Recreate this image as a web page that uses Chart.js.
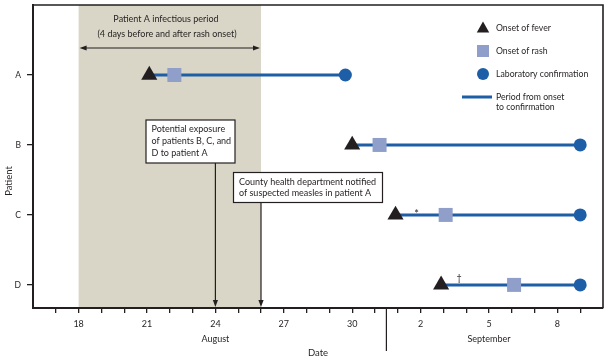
<!DOCTYPE html>
<html><head><meta charset="utf-8">
<script src="https://cdn.jsdelivr.net/npm/chart.js@4.4.1/dist/chart.umd.min.js"></script>
<style>html,body{margin:0;padding:0;background:#fff}</style>
</head><body>
<canvas id="c" width="609" height="360"></canvas>
<script>
// ---- data (days counted from August 1; September 1 = day 32) ----
const patients = ['A', 'B', 'C', 'D'];
const feverOnset = [21.1, 30, 31.9, 33.9];
const rashOnset = [22.2, 31.2, 34.1, 37.1];
const labConfirmation = [29.7, 40, 40, 40];
const footnoteMarks = ['', '', '*', '\u2020'];
const tickDays = [17,18,19,20,21,22,23,24,25,26,27,28,29,30,31,32,33,34,35,36,37,38,39,40];
const labelDays = [18, 21, 24, 27, 30, 33, 36, 39];
const dayLabels = ['18', '21', '24', '27', '30', '2', '5', '8'];
const monthLabelDays = [24, 36];
const monthNames = ['August', 'September'];
const monthBoundary = 31.5;
const infectiousPeriod = [18, 26];
const exposureDay = 24;
const notifiedDay = 26;
const infectiousText = ['Patient A infectious period', '(4 days before and after rash onset)'];
const exposureText = ['Potential exposure', 'of patients B, C, and', 'D to patient A'];
const notifiedText = ['County health department notified', 'of suspected measles in patient A'];
const legendLabels = ['Onset of fever', 'Onset of rash', 'Laboratory confirmation', ['Period from onset', 'to confirmation']];

const INK = '#231f20';
const BLUE = '#1d5ea6';
const RASH = '#8f9fca';
const SHADE = '#d9d6c7';
const FAM = 'Lato, "Open Sans", sans-serif';

function tri(ctx, x, y, w, h) { ctx.beginPath(); ctx.moveTo(x, y - h / 2); ctx.lineTo(x + w / 2, y + h / 2); ctx.lineTo(x - w / 2, y + h / 2); ctx.closePath(); ctx.fill(); }
function headDown(ctx, x, y) { ctx.beginPath(); ctx.moveTo(x, y); ctx.lineTo(x - 2.6, y - 7); ctx.lineTo(x + 2.6, y - 7); ctx.closePath(); ctx.fill(); }
function headH(ctx, x, y, dir) { ctx.beginPath(); ctx.moveTo(x, y); ctx.lineTo(x - dir * 7, y - 2.4); ctx.lineTo(x - dir * 7, y + 2.4); ctx.closePath(); ctx.fill(); }

const decor = {
  id: 'decor',
  beforeDraw(chart) {
    const { ctx, chartArea: a, scales: { x } } = chart;
    const x0 = x.getPixelForValue(infectiousPeriod[0]);
    const x1 = x.getPixelForValue(infectiousPeriod[1]);
    ctx.save();
    ctx.fillStyle = SHADE;
    ctx.fillRect(x0, a.top, x1 - x0, a.bottom - a.top);
    ctx.fillStyle = INK;
    ctx.font = '9px ' + FAM;
    ctx.textAlign = 'center'; ctx.textBaseline = 'middle';
    ctx.fillText(infectiousText[0], 166, 19);
    ctx.fillText(infectiousText[1], 167, 34.5);
    ctx.strokeStyle = INK; ctx.lineWidth = 1.2;
    const ay = 48;
    ctx.beginPath(); ctx.moveTo(x0 + 4, ay); ctx.lineTo(x1 - 4, ay); ctx.stroke();
    headH(ctx, x0 + 1, ay, -1); headH(ctx, x1 - 1, ay, 1);
    ctx.restore();
  },
  afterDatasetsDraw(chart) {
    const { ctx, chartArea: a, scales: { x, y } } = chart;
    ctx.save();
    ctx.fillStyle = INK; ctx.strokeStyle = INK;
    // footnote marks
    ctx.textAlign = 'center'; ctx.textBaseline = 'alphabetic';
    footnoteMarks.forEach((m, i) => {
      if (!m) return;
      ctx.font = (m === '*' ? '11px ' : '9px ') + FAM;
      const px = x.getPixelForValue(feverOnset[i]) + (m === '*' ? 21 : 18);
      ctx.fillText(m, px, y.getPixelForValue(i + 1) + (m === '*' ? 3 : -4));
    });
    // exposure annotation
    const ex = x.getPixelForValue(exposureDay);
    ctx.lineWidth = 1.2;
    ctx.beginPath(); ctx.moveTo(ex, 163); ctx.lineTo(ex, a.bottom - 5); ctx.stroke();
    headDown(ctx, ex, a.bottom - 1);
    ctx.fillStyle = '#fff';
    ctx.fillRect(146, 120, 89, 43); ctx.strokeRect(146, 120, 89, 43);
    ctx.fillStyle = INK;
    ctx.font = '9px ' + FAM; ctx.textAlign = 'left'; ctx.textBaseline = 'middle';
    exposureText.forEach((t, i) => ctx.fillText(t, 151.5, 129.5 + i * 11.7));
    // notified annotation
    const nx = x.getPixelForValue(notifiedDay);
    ctx.beginPath(); ctx.moveTo(nx, 203); ctx.lineTo(nx, a.bottom - 5); ctx.stroke();
    headDown(ctx, nx, a.bottom - 1);
    ctx.fillStyle = '#fff';
    ctx.fillRect(233.5, 172.5, 149, 30); ctx.strokeRect(233.5, 172.5, 149, 30);
    ctx.fillStyle = INK;
    notifiedText.forEach((t, i) => ctx.fillText(t, 239, 182 + i * 11));
    ctx.restore();
  },
  afterDraw(chart) {
    const { ctx, chartArea: a, scales: { x } } = chart;
    ctx.save();
    ctx.strokeStyle = INK; ctx.fillStyle = INK;
    // frame top / right
    ctx.lineWidth = 1.6;
    ctx.beginPath(); ctx.moveTo(a.left, a.top); ctx.lineTo(a.right, a.top); ctx.lineTo(a.right, a.bottom); ctx.stroke();
    // month separator
    const mx = x.getPixelForValue(monthBoundary);
    ctx.lineWidth = 1.2;
    ctx.beginPath(); ctx.moveTo(mx, a.bottom); ctx.lineTo(mx, 351); ctx.stroke();
    // y title
    ctx.save();
    ctx.translate(9, 181); ctx.rotate(-Math.PI / 2);
    ctx.font = '9.5px ' + FAM; ctx.textAlign = 'center'; ctx.textBaseline = 'middle';
    ctx.fillText('Patient', 0, 0);
    ctx.restore();
    // legend
    const lx = 483, tx = 496;
    ctx.font = '8.7px ' + FAM; ctx.textAlign = 'left'; ctx.textBaseline = 'middle';
    ctx.fillStyle = INK; tri(ctx, lx, 27, 12.5, 11);
    ctx.fillText(legendLabels[0], tx, 28);
    ctx.fillStyle = RASH; ctx.fillRect(lx - 6, 45, 12, 12);
    ctx.fillStyle = INK; ctx.fillText(legendLabels[1], tx, 51);
    ctx.fillStyle = BLUE; ctx.beginPath(); ctx.arc(lx, 74, 6, 0, Math.PI * 2); ctx.fill();
    ctx.fillStyle = INK; ctx.fillText(legendLabels[2], tx, 74);
    ctx.strokeStyle = BLUE; ctx.lineWidth = 3;
    ctx.beginPath(); ctx.moveTo(462, 97); ctx.lineTo(492, 97); ctx.stroke();
    ctx.fillStyle = INK;
    ctx.fillText(legendLabels[3][0], tx, 97);
    ctx.fillText(legendLabels[3][1], tx, 107.5);
    ctx.restore();
  }
};

const datasets = [
  { type: 'scatter', label: 'Onset of fever', order: 1,
    data: patients.map((p, i) => ({ x: feverOnset[i], y: i + 1 })),
    pointStyle: 'triangle', pointRadius: 9.3, backgroundColor: INK, borderColor: INK, borderWidth: 0 },
  { type: 'scatter', label: 'Onset of rash', order: 2,
    data: patients.map((p, i) => ({ x: rashOnset[i], y: i + 1 })),
    pointStyle: 'rect', pointRadius: 9.9, backgroundColor: RASH, borderColor: RASH, borderWidth: 0 },
  { type: 'scatter', label: 'Laboratory confirmation', order: 3,
    data: patients.map((p, i) => ({ x: labConfirmation[i], y: i + 1 })),
    pointStyle: 'circle', pointRadius: 6.5, backgroundColor: BLUE, borderColor: BLUE, borderWidth: 0 }
].concat(patients.map((p, i) => ({
  type: 'line', label: 'Period ' + p, order: 10,
  data: [{ x: feverOnset[i], y: i + 1 }, { x: labConfirmation[i], y: i + 1 }],
  borderColor: BLUE, borderWidth: 3, pointRadius: 0, fill: false, tension: 0
})));

new Chart(document.getElementById('c'), {
  data: { datasets },
  options: {
    responsive: false, animation: false, devicePixelRatio: 1,
    layout: { autoPadding: false, padding: { left: 0, right: 6, top: 5, bottom: 0 } },
    plugins: { legend: { display: false }, tooltip: { enabled: false } },
    scales: {
      x: {
        type: 'linear', position: 'bottom', min: 16, max: 41, bounds: 'data',
        afterBuildTicks: s => { s.ticks = tickDays.map(v => ({ value: v })); },
        afterFit: s => { s.height = 52; s.paddingLeft = 0; s.paddingRight = 0; },
        ticks: {
          autoSkip: false, maxRotation: 0, padding: 4, color: INK,
          font: { family: FAM, size: 9, lineHeight: 1.667 },
          callback: v => {
            const k = labelDays.indexOf(v);
            if (k < 0) return '';
            const m = monthLabelDays.indexOf(v);
            return m < 0 ? dayLabels[k] : [dayLabels[k], monthNames[m]];
          }
        },
        grid: { display: true, drawOnChartArea: false, drawTicks: true, tickLength: 5, color: INK, lineWidth: 1.3 },
        border: { display: true, color: INK, width: 2 },
        title: { display: true, text: 'Date', color: INK, font: { family: FAM, size: 9.5 }, padding: { top: 0, bottom: 1 } }
      },
      y: {
        type: 'linear', position: 'left', min: 0, max: 4.33, reverse: true,
        afterBuildTicks: s => { s.ticks = patients.map((p, i) => ({ value: i + 1 })); },
        afterFit: s => { s.width = 33; s.paddingTop = 0; s.paddingBottom = 0; },
        ticks: { padding: 6, color: INK, font: { family: FAM, size: 8.5 }, callback: v => patients[v - 1] || '' },
        grid: { display: true, drawOnChartArea: false, drawTicks: true, tickLength: 6, color: INK, lineWidth: 1.3 },
        border: { display: true, color: INK, width: 2 },
        title: { display: false }
      }
    }
  },
  plugins: [decor]
});
</script>
</body></html>
